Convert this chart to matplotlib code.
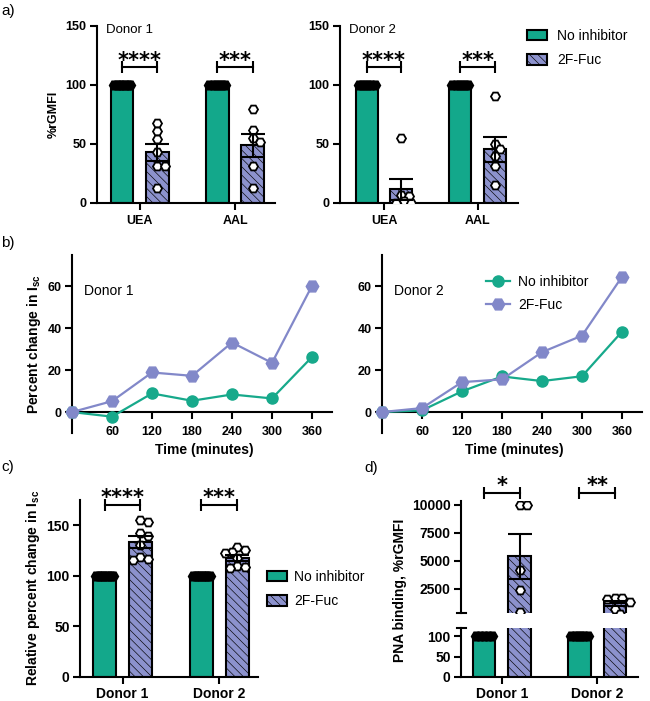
import numpy as np
import matplotlib
matplotlib.use("Agg")
import matplotlib.pyplot as plt
from matplotlib.patches import Patch
from matplotlib.lines import Line2D

plt.rcParams['font.family'] = ['Liberation Sans', 'DejaVu Sans']
plt.rcParams['mathtext.fontset'] = 'custom'
plt.rcParams['mathtext.rm'] = 'Liberation Sans'
plt.rcParams['mathtext.bf'] = 'Liberation Sans:bold'
plt.rcParams['hatch.linewidth'] = 0.45
plt.rcParams['hatch.color'] = '#767cbf'

# ---------------- data ----------------
groups = ['No inhibitor', '2F-Fuc']
a_categories = ['UEA', 'AAL']
a_d1_ctrl = [[100] * 7, [100] * 6]
a_d1_2f = [[68, 61, 54, 43, 31, 31, 13], [80, 62, 55, 52, 31, 13]]
a_d2_ctrl = [[100] * 6, [100] * 6]
a_d2_2f = [[55, 7, 6, 2, 0, 0], [91, 50, 46, 40, 31, 15]]
a_stars_d1 = ['****', '***']
a_stars_d2 = ['****', '***']

b_time = [0, 60, 120, 180, 240, 300, 360]
b_d1_ctrl = [0, -2.2, 8.9, 5.4, 8.4, 6.5, 26.3]
b_d1_2f = [0, 5.2, 18.9, 17.3, 33.2, 23.5, 60.3]
b_d2_ctrl = [0, 0.8, 9.9, 17.0, 14.8, 17.1, 38.4]
b_d2_2f = [0, 1.9, 14.3, 15.6, 28.6, 36.5, 64.6]

donors = ['Donor 1', 'Donor 2']
c_ctrl = [[100] * 8, [100] * 8]
c_2f = [[155, 153, 142, 139, 130, 118, 116, 115], [128, 125, 123, 122, 117, 110, 109, 108]]
c_stars = ['****', '***']

d_ctrl = [[100] * 5, [100] * 6]
d_2f = [[10000, 10000, 4200, 2400, 400], [1700, 1650, 1600, 1300, 700, 300]]
d_stars = ['*', '**']

# ---------------- style ----------------
GREEN = '#13a88b'
BLUE = '#8c92cd'
LGREEN = '#17a98b'
LBLUE = '#8288c9'
HATCH = '\\\\\\\\'
W, H = 650, 701
BW, OFF = 0.235, 0.185
LW = 1.5

fig = plt.figure(figsize=(W / 100, H / 100), dpi=100)


def px_axes(x0, y0, x1, y1):
    return fig.add_axes([x0 / W, 1 - y1 / H, (x1 - x0) / W, (y1 - y0) / H])


def style(ax, fs=9, xpad=4):
    for s in ['top', 'right']:
        ax.spines[s].set_visible(False)
    for s in ['left', 'bottom']:
        ax.spines[s].set_linewidth(LW)
    ax.tick_params(width=LW, length=5, labelsize=fs, pad=2.5)
    ax.tick_params(axis='x', pad=xpad)
    for lab in ax.get_xticklabels() + ax.get_yticklabels():
        lab.set_fontweight('bold')


def swarm(ax, xc, vals, d=7.5):
    placed = []
    res = []
    inv = ax.transData.inverted()
    for v in vals:
        px, py = ax.transData.transform((xc, v))
        offs = [0.0]
        for m in range(1, 20):
            offs += [m * d / 3, -m * d / 3]
        chosen = offs[-1]
        for o in offs:
            if all(np.hypot(px + o - qx, py - qy) >= d * 0.85 for qx, qy in placed):
                chosen = o
                break
        placed.append((px + chosen, py))
        res.append(inv.transform((px + chosen, py))[0])
    return res


def sem(v):
    v = np.asarray(v, float)
    return v.std(ddof=1) / np.sqrt(len(v))


def bar_panel(ax, cats_ctrl, cats_2f, show_ctrl=True):
    for i, (cv, tv) in enumerate(zip(cats_ctrl, cats_2f)):
        xg, xb = i - OFF, i + OFF
        if show_ctrl:
            ax.bar(xg, np.mean(cv), BW, color=GREEN, edgecolor='black', linewidth=LW, zorder=1)
            xs = xg + np.linspace(-BW * 0.36, BW * 0.36, len(cv))
            ax.plot(xs, cv, ls='none', marker='H', ms=7, mfc='black', mec='black', mew=1.2,
                    zorder=3)
        ax.bar(xb, np.mean(tv), BW, color=BLUE, edgecolor='black', linewidth=LW,
               hatch=HATCH, zorder=1)
        xs2 = swarm(ax, xb, tv)
        ax.plot(xs2, tv, ls='none', marker='H', ms=6.5, mfc='white', mec='black', mew=1.3,
                zorder=3)
        ax.errorbar(xb, np.mean(tv), yerr=sem(tv), fmt='none', ecolor='black',
                    elinewidth=LW, capsize=8.5, capthick=LW, zorder=4)


def bracket(ax, i, y, stars):
    x0, x1 = i - OFF, i + OFF
    ax.plot([x0, x1], [y, y], color='black', lw=LW, clip_on=False, zorder=5)
    for xx in (x0, x1):
        ax.plot([xx], [y], marker='|', ms=8, mew=LW, color='black', clip_on=False, zorder=5)
    ax.annotate(stars, xy=((x0 + x1) / 2, y), xytext=(0, 0.5), textcoords='offset points',
                ha='center', va='baseline', fontsize=15, fontweight='bold',
                family='DejaVu Sans', annotation_clip=False)


# ---------------- panel a ----------------
for (x0, xlim, ctrl, tf, stars, title) in [
        (97, (-0.45, 1.42), a_d1_ctrl, a_d1_2f, a_stars_d1, 'Donor 1'),
        (340, (-0.47, 1.43), a_d2_ctrl, a_d2_2f, a_stars_d2, 'Donor 2')]:
    ax = px_axes(x0, 26, x0 + 178, 203)
    ax.set_xlim(*xlim)
    ax.set_ylim(0, 150)
    ax.set_yticks([0, 50, 100, 150])
    ax.set_xticks([0, 1])
    ax.set_xticklabels(a_categories)
    style(ax, 9)
    bar_panel(ax, ctrl, tf)
    for i, s in enumerate(stars):
        bracket(ax, i, 115, s)
    ax.text(0.05, 0.975, title, transform=ax.transAxes, fontsize=9.5, va='center', ha='left')
    if x0 == 97:
        ax.set_ylabel('%rGMFI', fontsize=9, fontweight='bold', labelpad=4)

fig.legend([Patch(facecolor=GREEN, edgecolor='black', linewidth=LW),
            Patch(facecolor=BLUE, edgecolor='black', linewidth=LW, hatch=HATCH)],
           groups, loc='upper left', bbox_to_anchor=(527 / W, 1 - 29 / H), frameon=False,
           fontsize=10, handlelength=1.45, handleheight=0.8, handletextpad=0.7,
           labelspacing=0.75, borderpad=0, borderaxespad=0)

# ---------------- panel b ----------------
for (x0, ctrl, tf, title, left) in [(72, b_d1_ctrl, b_d1_2f, 'Donor 1', True),
                                    (382, b_d2_ctrl, b_d2_2f, 'Donor 2', False)]:
    ax = px_axes(x0, 255, x0 + 260, 433)
    ax.set_xlim(0, 390)
    ax.set_ylim(-10, 75)
    ax.spines['bottom'].set_position(('data', 0))
    ax.set_xticks(b_time[1:])
    ax.set_yticks([0, 20, 40, 60])
    style(ax, 9, xpad=5)
    l1, = ax.plot(b_time, ctrl, color=LGREEN, lw=1.6, marker='o', ms=8, zorder=3, clip_on=False)
    l2, = ax.plot(b_time, tf, color=LBLUE, lw=1.6, marker='H', ms=9, zorder=3, clip_on=False)
    ax.set_xlabel('Time (minutes)', fontsize=10, fontweight='bold')
    ax.xaxis.set_label_coords(0.51, -0.055)
    ax.text(0.045, 0.80, title, transform=ax.transAxes, fontsize=10, va='center')
    if left:
        ax.set_ylabel(r'Percent change in $\mathbf{I_{sc}}$', fontsize=10,
                      fontweight='bold', labelpad=3)
    else:
        ax.legend([l1, l2], groups, loc='upper left', bbox_to_anchor=(0.4, 0.89),
                  frameon=False, fontsize=10, handlelength=1.75, handletextpad=0.55,
                  labelspacing=0.65, borderpad=0, borderaxespad=0)

# ---------------- panel c ----------------
ax = px_axes(80, 677 - 175 * 1.0133, 258, 677)
ax.set_xlim(-0.44, 1.4)
ax.set_ylim(0, 175)
ax.set_yticks([0, 50, 100, 150])
ax.set_xticks([0, 1])
ax.set_xticklabels(donors)
style(ax, 10, xpad=2.5)
bar_panel(ax, c_ctrl, c_2f)
for i, s in enumerate(c_stars):
    bracket(ax, i, 170, s)
ax.set_ylabel(r'Relative percent change in $\mathbf{I_{sc}}$', fontsize=10,
              fontweight='bold', labelpad=3)
fig.legend([Patch(facecolor=GREEN, edgecolor='black', linewidth=LW),
            Patch(facecolor=BLUE, edgecolor='black', linewidth=LW, hatch=HATCH)],
           groups, loc='upper left', bbox_to_anchor=(267 / W, 1 - 570 / H), frameon=False,
           fontsize=10, handlelength=1.45, handleheight=0.8, handletextpad=0.5,
           labelspacing=0.75, borderpad=0, borderaxespad=0)

# ---------------- panel d ----------------
axl = px_axes(461, 628, 638, 677)
axu = px_axes(461, 501, 638, 613)
for a_ in (axl, axu):
    a_.set_xlim(-0.43, 1.43)
axl.set_ylim(0, 120)
axu.set_ylim(350, 10350)
axl.set_yticks([0, 50, 100])
axu.set_yticks([2500, 5000, 7500, 10000])
axl.set_xticks([0, 1])
axl.set_xticklabels(donors)
axu.set_xticks([])
style(axl, 10, xpad=2.5)
style(axu, 10)
axu.spines['bottom'].set_visible(False)
bar_panel(axl, d_ctrl, d_2f)
bar_panel(axu, d_ctrl, d_2f, show_ctrl=False)
for i, s in enumerate(d_stars):
    bracket(axu, i, 11070, s)
for yy in (613, 628):
    fig.add_artist(Line2D([456.5 / W, 466 / W], [1 - yy / H] * 2, color='black', lw=LW))
fig.text(400 / W, 1 - 590 / H, 'PNA binding, %rGMFI', rotation=90, fontsize=10,
         fontweight='bold', ha='center', va='center')

# ---------------- panel labels ----------------
for lab, x, y in [('a)', 1, 11), ('b)', 1, 243), ('c)', 1, 467), ('d)', 364, 468)]:
    fig.text(x / W, 1 - y / H, lab, fontsize=11, va='center', ha='left')

fig.savefig('out.png', dpi=100)
